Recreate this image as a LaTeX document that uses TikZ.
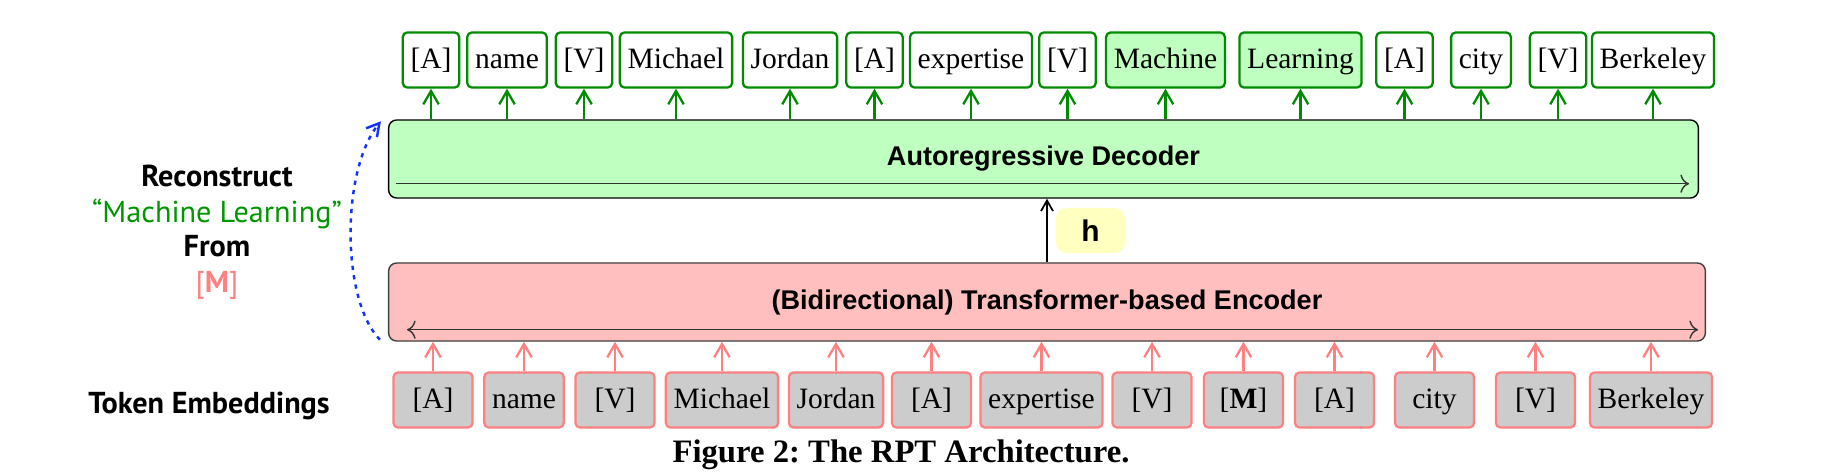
\documentclass[tikz,border=0pt]{standalone}
\usepackage{fontspec}
\setmainfont{Liberation Serif}
\newfontfamily\helvfont{Liberation Sans}
\newfontfamily\sidefont{PT Sans}
\usetikzlibrary{calc,arrows.meta}

\definecolor{tokgreen}{RGB}{0,140,0}
\definecolor{textgreen}{RGB}{0,150,0}
\definecolor{declight}{RGB}{191,255,191}
\definecolor{encpink}{RGB}{255,191,191}
\definecolor{pinkline}{RGB}{255,128,128}
\definecolor{tokgray}{RGB}{204,204,204}
\definecolor{hyellow}{RGB}{255,255,192}
\definecolor{reconblue}{RGB}{20,50,255}

\begin{document}
\begin{tikzpicture}[x=0.01cm,y=-0.01cm,
  tokout/.style={draw=tokgreen,line width=0.65pt,rounded corners=1.3pt,fill=white,
    inner xsep=2.2pt,text height=7pt,text depth=2pt,minimum height=0.47cm,
    font=\fontsize{8.4}{10}\selectfont},
  tokhit/.style={tokout,fill=declight},
  tokin/.style={draw=pinkline,line width=0.65pt,rounded corners=1.3pt,fill=tokgray,
    inner xsep=2.2pt,text height=7pt,text depth=2pt,minimum height=0.46cm,minimum width=0.79cm,
    font=\fontsize{8.4}{10}\selectfont},
  block/.style={draw,line width=0.4pt,rounded corners=2.3pt,
    font=\helvfont\bfseries\fontsize{7.7}{9}\selectfont},
  garrow/.style={draw=tokgreen,line width=0.65pt,-{Straight Barb[length=3.8pt,width=4.4pt]}},
  parrow/.style={draw=pinkline,line width=0.65pt,-{Straight Barb[length=3.8pt,width=4.4pt]}},
  sidelab/.style={anchor=base,font=\sidefont\fontsize{8.6}{10}\selectfont}]

\useasboundingbox (0,0) rectangle (1830,473);

% decoder and encoder
\node[block,fill=declight,minimum width=13.09cm,minimum height=0.78cm] (Dec) at (1043.5,159) {Autoregressive Decoder};
\node[block,fill=encpink,draw={black!75},minimum width=13.16cm,minimum height=0.78cm] (Enc) at (1047,302) {(Bidirectional) Transformer-based Encoder};

\draw[line width=0.4pt,black!80,->] ($(Dec.south west)+(8,-15)$) -- ($(Dec.south east)+(-10,-15)$);
\draw[line width=0.4pt,black!80,<->] ($(Enc.south west)+(19,-12)$) -- ($(Enc.south east)+(-8,-12)$);

\node[fill=hyellow,rounded corners=3pt,minimum width=0.69cm,minimum height=0.45cm,
  font=\helvfont\bfseries\fontsize{8.5}{10}\selectfont] (H) at (1090.5,230.5) {h};
\draw[line width=0.5pt,-{Straight Barb[length=3pt,width=3.4pt]}] (Enc.north) -- (Enc.north |- Dec.south);

% output tokens
\node[tokout] (O1) at (431,60) {[A]};
\node[tokout] (O2) at (507,60) {name};
\node[tokout] (O3) at (584,60) {[V]};
\node[tokout] (O4) at (676,60) {Michael};
\node[tokout] (O5) at (790,60) {Jordan};
\node[tokout] (O6) at (874.5,60) {[A]};
\node[tokout] (O7) at (971,60) {expertise};
\node[tokout] (O8) at (1067.5,60) {[V]};
\node[tokhit] (O9) at (1165.5,60) {Machine};
\node[tokhit] (O10) at (1300.5,60) {Learning};
\node[tokout] (O11) at (1404.5,60) {[A]};
\node[tokout] (O12) at (1481,60) {city};
\node[tokout] (O13) at (1558,60) {[V]};
\node[tokout] (O14) at (1653,60) {Berkeley};

\draw[garrow] (O1 |- Dec.north) -- (O1);
\draw[garrow] (O2 |- Dec.north) -- (O2);
\draw[garrow] (O3 |- Dec.north) -- (O3);
\draw[garrow] (O4 |- Dec.north) -- (O4);
\draw[garrow] (O5 |- Dec.north) -- (O5);
\draw[garrow] (O6 |- Dec.north) -- (O6);
\draw[garrow] (O7 |- Dec.north) -- (O7);
\draw[garrow] (O8 |- Dec.north) -- (O8);
\draw[garrow] (O9 |- Dec.north) -- (O9);
\draw[garrow] (O10 |- Dec.north) -- (O10);
\draw[garrow] (O11 |- Dec.north) -- (O11);
\draw[garrow] (O12 |- Dec.north) -- (O12);
\draw[garrow] (O13 |- Dec.north) -- (O13);
\draw[garrow] (O14 |- Dec.north) -- (O14);

% input tokens
\node[tokin] (I1) at (433,400) {[A]};
\node[tokin] (I2) at (524,400) {name};
\node[tokin] (I3) at (615,400) {[V]};
\node[tokin] (I4) at (722,400) {Michael};
\node[tokin] (I5) at (836,400) {Jordan};
\node[tokin] (I6) at (931.5,400) {[A]};
\node[tokin] (I7) at (1041.5,400) {expertise};
\node[tokin] (I8) at (1152,400) {[V]};
\node[tokin] (I9) at (1243.5,400) {[\textbf{M}]};
\node[tokin] (I10) at (1334.5,400) {[A]};
\node[tokin] (I11) at (1434.5,400) {city};
\node[tokin] (I12) at (1535.5,400) {[V]};
\node[tokin] (I13) at (1651,400) {Berkeley};

\draw[parrow] (I1) -- (I1 |- Enc.south);
\draw[parrow] (I2) -- (I2 |- Enc.south);
\draw[parrow] (I3) -- (I3 |- Enc.south);
\draw[parrow] (I4) -- (I4 |- Enc.south);
\draw[parrow] (I5) -- (I5 |- Enc.south);
\draw[parrow] (I6) -- (I6 |- Enc.south);
\draw[parrow] (I7) -- (I7 |- Enc.south);
\draw[parrow] (I8) -- (I8 |- Enc.south);
\draw[parrow] (I9) -- (I9 |- Enc.south);
\draw[parrow] (I10) -- (I10 |- Enc.south);
\draw[parrow] (I11) -- (I11 |- Enc.south);
\draw[parrow] (I12) -- (I12 |- Enc.south);
\draw[parrow] (I13) -- (I13 |- Enc.south);

% left labels
\node[sidelab,font=\sidefont\bfseries\fontsize{8.6}{10}\selectfont] (Rec) at (217,186) {Reconstruct};
\node[sidelab,text=textgreen] (ML) at (217,222) {“Machine Learning”};
\node[sidelab,font=\sidefont\bfseries\fontsize{8.6}{10}\selectfont] (From) at (217,257) {From};
\node[sidelab,text=pinkline] (Mask) at (217,293) {[\textbf{M}]};
\node[sidelab,font=\sidefont\bfseries\fontsize{8.6}{10}\selectfont] (Emb) at (209,413) {Token Embeddings};

\coordinate (S) at ($(Enc.south west)+(-8,-2)$);
\coordinate (T) at ($(Dec.north west)+(-7,2)$);
\draw[reconblue,line width=0.7pt,dash pattern=on 1.2pt off 1.5pt,-{Straight Barb[length=3.5pt,width=4pt]}] (S) .. controls (341,300) and (341,170) .. (T);

\node[anchor=base,font=\bfseries\fontsize{9.3}{11}\selectfont] (Cap) at (901,462) {\frenchspacing Figure 2: The RPT Architecture.};

\end{tikzpicture}
\end{document}
